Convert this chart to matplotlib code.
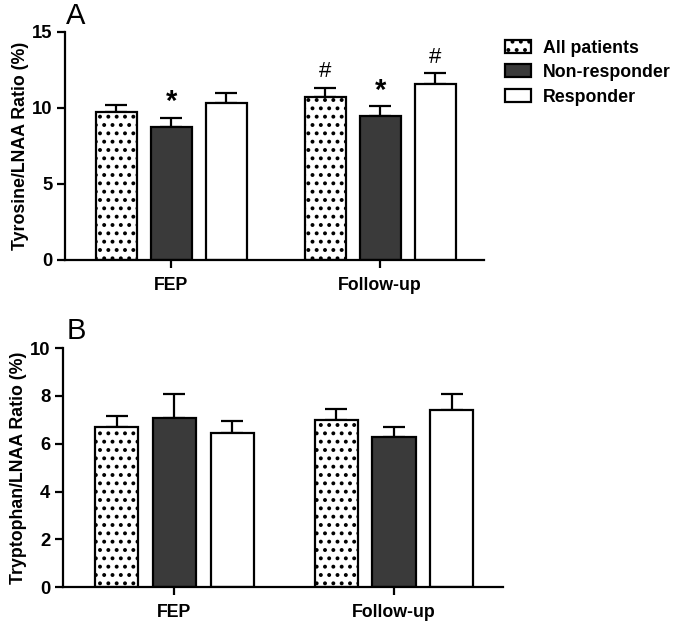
import matplotlib
matplotlib.use("Agg")
import matplotlib.pyplot as plt
from matplotlib.patches import Patch
import numpy as np

plt.rcParams['font.family'] = ['Liberation Sans', 'DejaVu Sans']
plt.rcParams['hatch.linewidth'] = 1.6

groups = ["FEP", "Follow-up"]
series = ["All patients", "Non-responder", "Responder"]

tyr_all = [9.75, 10.75]
tyr_non = [8.75, 9.47]
tyr_resp = [10.35, 11.55]
tyr_all_sem = [0.47, 0.58]
tyr_non_sem = [0.60, 0.65]
tyr_resp_sem = [0.65, 0.72]
tyr_marks_all = ["", "#"]
tyr_marks_non = ["*", "*"]
tyr_marks_resp = ["", "#"]

trp_all = [6.69, 6.99]
trp_non = [7.07, 6.28]
trp_resp = [6.44, 7.41]
trp_all_sem = [0.47, 0.46]
trp_non_sem = [1.00, 0.42]
trp_resp_sem = [0.50, 0.68]

fig = plt.figure(figsize=(6.75, 6.25), dpi=100)
axA = fig.add_axes([0.0963, 0.584, 0.621, 0.365])
axB = fig.add_axes([0.0933, 0.0608, 0.652, 0.382])

centers = np.array([0.0, 3.8])
offsets = [-1.0, 0.0, 1.0]
width = 0.75
styles = [
    dict(facecolor='white', hatch='..'),
    dict(facecolor='#3a3a3a', hatch=None),
    dict(facecolor='white', hatch=None),
]

FS = 12.8

def draw(ax, means, sems, marks, ylim, yticks, ylabel):
    for i, (m, s) in enumerate(zip(means, sems)):
        x = centers + offsets[i]
        ax.bar(x, m, width=width, edgecolor='black', linewidth=1.6,
               zorder=2, **styles[i])
        ax.errorbar(x, m, yerr=[np.zeros(len(s)), s], fmt='none',
                    ecolor='black', elinewidth=1.6, capsize=8, capthick=1.6,
                    zorder=1)
        if marks is not None:
            for xi, mi, si, t in zip(x, m, s, marks[i]):
                if t == '*':
                    ax.annotate(t, (xi, mi + si), xytext=(0, 1),
                                textcoords='offset points', ha='center',
                                va='bottom', fontsize=21, fontweight='bold')
                elif t:
                    ax.annotate(t, (xi, mi + si), xytext=(0, 4),
                                textcoords='offset points', ha='center',
                                va='bottom', fontsize=16)
    ax.set_xlim(-1.93, 5.69)
    ax.set_ylim(*ylim)
    ax.set_yticks(yticks)
    ax.set_xticks(centers)
    ax.set_xticklabels(groups, fontsize=FS, fontweight='bold')
    for lab in ax.get_yticklabels():
        lab.set_fontweight('bold')
        lab.set_fontsize(FS + 0.5)
    ax.set_ylabel(ylabel, fontsize=FS, fontweight='bold', labelpad=2)
    for sp in ['top', 'right']:
        ax.spines[sp].set_visible(False)
    for sp in ['left', 'bottom']:
        ax.spines[sp].set_linewidth(1.6)
    ax.tick_params(axis='both', width=1.6, length=6, direction='out', pad=3)
    ax.tick_params(axis='x', pad=6)

draw(axA, [tyr_all, tyr_non, tyr_resp], [tyr_all_sem, tyr_non_sem, tyr_resp_sem],
     [tyr_marks_all, tyr_marks_non, tyr_marks_resp], (0, 15), [0, 5, 10, 15],
     "Tyrosine/LNAA Ratio (%)")
draw(axB, [trp_all, trp_non, trp_resp], [trp_all_sem, trp_non_sem, trp_resp_sem],
     None, (0, 10), [0, 2, 4, 6, 8, 10], "Tryptophan/LNAA Ratio (%)")

fig.text(0.098, 0.975, "A", fontsize=21, va='center', ha='left')
fig.text(0.098, 0.47, "B", fontsize=21, va='center', ha='left')

handles = [Patch(edgecolor='black', linewidth=1.6, **styles[i]) for i in range(3)]
fig.legend(handles, series, loc='upper left', bbox_to_anchor=(0.738, 0.948),
           frameon=False, prop={'weight': 'bold', 'size': FS},
           handlelength=1.45, handleheight=0.75, labelspacing=0.42,
           handletextpad=0.65, borderaxespad=0)

fig.savefig("out.png", dpi=100)
